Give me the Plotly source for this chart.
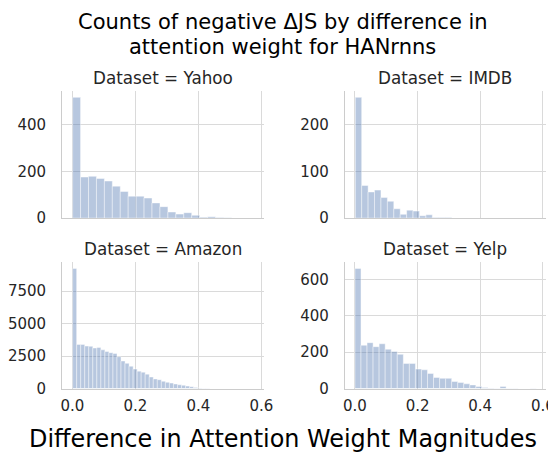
import numpy as np
import plotly.graph_objects as go

# ---------------- data ----------------
datasets = ["Yahoo", "IMDB", "Amazon", "Yelp"]

yahoo_bin_start = 0.001
yahoo_bin_width = 0.0252
yahoo_counts = [518, 176, 179, 170, 159, 137, 114, 94, 94, 86, 65, 49, 26, 17, 23,
                12, 4, 6, 2, 1]

imdb_bin_start = 0.001
imdb_bin_width = 0.0205
imdb_counts = [259, 70, 56, 60, 44, 36, 20, 8, 17, 15, 5, 7, 1, 1, 1]

amazon_bin_start = 0.001
amazon_bin_width = 0.0128
amazon_counts = [9250, 3400, 3400, 3270, 3250, 3120, 3170, 2980, 2850, 2760, 2700,
                 2450, 2120, 1940, 1720, 1500, 1340, 1260, 1110, 890, 740, 680, 560,
                 480, 420, 350, 290, 250, 190, 140, 90, 50, 30, 20, 12, 8, 5, 3, 2, 1]

yelp_bin_start = 0.0
yelp_bin_width = 0.0193
yelp_counts = [660, 238, 252, 230, 246, 216, 203, 188, 138, 138, 107, 103, 83, 61, 56,
               56, 39, 33, 26, 20, 11, 6, 3, 2, 11, 1, 1, 0, 0, 1]

x_tick_vals = [0.0, 0.2, 0.4, 0.6]
x_tick_text = ["0.0", "0.2", "0.4", "0.6"]
y_dticks = [200, 100, 2500, 200]

title_lines = ["Counts of negative ΔJS by difference in", "attention weight for HANrnns"]
x_label = "Difference in Attention Weight Magnitudes"

# ---------------- figure ----------------
W, H = 556, 457
FONT = "DejaVu Sans"
TXT = "#262626"
GRID = "#dadada"
SPINE = "#cccccc"

starts = [yahoo_bin_start, imdb_bin_start, amazon_bin_start, yelp_bin_start]
widths = [yahoo_bin_width, imdb_bin_width, amazon_bin_width, yelp_bin_width]
counts_all = [yahoo_counts, imdb_counts, amazon_counts, yelp_counts]

x_domains = [[53.3 / W, 259.3 / W], [341.7 / W, 546.5 / W]]
y_domains = [[1 - 214.3 / H, 1 - 85 / H], [1 - 388.2 / H, 1 - 259.5 / H]]

fig = go.Figure()
layout = dict(
    width=W, height=H,
    margin=dict(l=0, r=0, t=0, b=0),
    paper_bgcolor="white", plot_bgcolor="white",
    font=dict(family=FONT, color=TXT, size=15),
    showlegend=False,
    annotations=[],
)

for i, name in enumerate(datasets):
    row, col = divmod(i, 2)
    counts = np.array(counts_all[i], dtype=float)
    edges = starts[i] + widths[i] * np.arange(len(counts) + 1)
    centers = (edges[:-1] + edges[1:]) / 2
    suffix = "" if i == 0 else str(i + 1)
    fig.add_trace(go.Bar(
        x=centers, y=counts, width=widths[i],
        xaxis="x" + suffix, yaxis="y" + suffix,
        marker=dict(color="rgba(76,114,176,0.4)",
                    line=dict(color="rgba(255,255,255,0.55)", width=0.8)),
        hoverinfo="skip", showlegend=False,
    ))
    layout["xaxis" + suffix] = dict(
        domain=x_domains[col], anchor="y" + suffix,
        range=[-0.032, 0.609],
        tickvals=x_tick_vals, ticktext=x_tick_text,
        showticklabels=(row == 1),
        ticks="outside", ticklen=3, tickcolor="rgba(0,0,0,0)",
        showgrid=True, gridcolor=GRID, gridwidth=1,
        showline=True, linecolor=SPINE, linewidth=1.2,
        zeroline=False,
        tickfont=dict(family=FONT, size=15, color=TXT),
    )
    layout["yaxis" + suffix] = dict(
        domain=y_domains[row], anchor="x" + suffix,
        range=[0, counts.max() * 1.05],
        dtick=y_dticks[i], tick0=0,
        ticks="outside", ticklen=12, tickcolor="rgba(0,0,0,0)",
        showgrid=True, gridcolor=GRID, gridwidth=1,
        showline=True, linecolor=SPINE, linewidth=1.2,
        zeroline=False,
        tickfont=dict(family=FONT, size=15, color=TXT),
    )
    xc = (x_domains[col][0] + x_domains[col][1]) / 2
    ytitle = 1 - (71.5 if row == 0 else 246) / H
    layout["annotations"].append(dict(
        text=f"Dataset = {name}", x=xc, y=ytitle, xref="paper", yref="paper",
        xanchor="center", yanchor="middle", showarrow=False,
        font=dict(family=FONT, size=16.8, color=TXT),
    ))

for k, line in enumerate(title_lines):
    layout["annotations"].append(dict(
        text=line, x=0.5, y=1 - (14.5 + 25 * k) / H, xref="paper", yref="paper",
        xanchor="center", yanchor="middle", showarrow=False,
        font=dict(family=FONT, size=21, color="black"),
    ))
layout["annotations"].append(dict(
    text=x_label, x=0.5, y=1 - 440 / H, xref="paper", yref="paper",
    xanchor="center", yanchor="middle", showarrow=False,
    font=dict(family=FONT, size=23.9, color="black"),
))

fig.update_layout(**layout)
fig.write_html("out.html")
